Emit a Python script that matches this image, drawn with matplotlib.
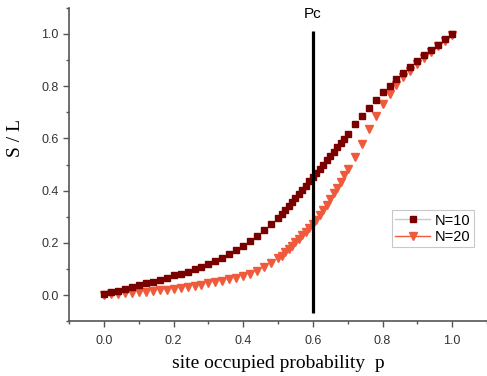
import matplotlib
matplotlib.use("Agg")
import matplotlib.pyplot as plt
from matplotlib.lines import Line2D
from matplotlib.ticker import MultipleLocator

# occupation probability grid: coarse 0.02 steps, dense 0.01 steps in 0.50-0.70
P_LOW = [round(0.02 * i, 2) for i in range(25)]          # 0.00 .. 0.48
P_MID = [round(0.50 + 0.01 * i, 2) for i in range(21)]   # 0.50 .. 0.70
P_HIGH = [round(0.72 + 0.02 * i, 2) for i in range(15)]  # 0.72 .. 1.00
P = P_LOW + P_MID + P_HIGH

# S/L for N=10 (squares)
S10 = [
    0.003, 0.010, 0.017, 0.023, 0.031, 0.037, 0.045, 0.051, 0.059, 0.067,
    0.075, 0.082, 0.090, 0.100, 0.109, 0.118, 0.130, 0.143, 0.156, 0.171,
    0.187, 0.205, 0.226, 0.249, 0.273,
    0.295, 0.310, 0.325, 0.341, 0.356, 0.372, 0.388, 0.403, 0.419, 0.435,
    0.451, 0.467, 0.483, 0.500, 0.516, 0.533, 0.549, 0.566, 0.582, 0.599,
    0.616,
    0.654, 0.687, 0.717, 0.746, 0.776, 0.800, 0.827, 0.851, 0.875, 0.896,
    0.918, 0.939, 0.959, 0.980, 1.000,
]

# S/L for N=20 (triangles)
S20 = [
    0.000, 0.002, 0.004, 0.006, 0.008, 0.011, 0.013, 0.015, 0.018, 0.021,
    0.024, 0.027, 0.031, 0.035, 0.040, 0.045, 0.050, 0.055, 0.061, 0.067,
    0.073, 0.082, 0.093, 0.106, 0.121,
    0.140, 0.151, 0.163, 0.175, 0.188, 0.202, 0.216, 0.229, 0.243, 0.257,
    0.272, 0.289, 0.307, 0.326, 0.346, 0.367, 0.389, 0.411, 0.434, 0.458,
    0.483,
    0.530, 0.580, 0.635, 0.686, 0.730, 0.770, 0.805, 0.834, 0.860, 0.885,
    0.908, 0.930, 0.953, 0.975, 0.997,
]

PC = 0.6
C10 = "#7a0000"
C20 = "#f05a3c"
AXC = "#555555"

fig = plt.figure(figsize=(4.87, 3.76), dpi=100, facecolor="white")
ax = fig.add_axes([0.142, 0.146, 0.858, 0.833])

ax.plot(P, S20, linestyle="none", marker="v", ms=5.8, color=C20, mec=C20)
ax.plot(P, S10, linestyle="none", marker="s", ms=5.0, color=C10, mec=C10)

# critical probability
ax.vlines(PC, -0.07, 1.01, color="black", linewidth=2.3)
ax.text(PC, 1.075, "Pc", ha="center", va="center", fontsize=11,
        family="Liberation Sans")

ax.set_xlim(-0.1, 1.1)
ax.set_ylim(-0.1, 1.1)
ax.set_xticks([0.0, 0.2, 0.4, 0.6, 0.8, 1.0])
ax.set_yticks([0.0, 0.2, 0.4, 0.6, 0.8, 1.0])
ax.xaxis.set_minor_locator(MultipleLocator(0.1))
ax.yaxis.set_minor_locator(MultipleLocator(0.1))
ax.tick_params(which="major", direction="out", length=4, width=1, color=AXC,
               labelsize=9, labelcolor="#333333")
ax.tick_params(which="minor", direction="out", length=2.5, width=1, color=AXC)
ax.tick_params(axis="x", pad=6)
for lab in ax.get_xticklabels() + ax.get_yticklabels():
    lab.set_family("Liberation Sans")

for side in ["top", "right"]:
    ax.spines[side].set_visible(False)
for side in ["left", "bottom"]:
    ax.spines[side].set_color(AXC)
    ax.spines[side].set_linewidth(1.2)

ax.set_xlabel("site occupied probability  p", fontsize=14,
              family="Liberation Serif", labelpad=6)
ax.set_ylabel("S / L", fontsize=14, family="Liberation Serif")
ax.yaxis.set_label_coords(-0.107, 0.585)

handles = [
    Line2D([], [], color="#c8c8c8", marker="s", ms=5, mfc=C10, mec=C10, lw=1),
    Line2D([], [], color=C20, marker="v", ms=6, mfc=C20, mec=C20, lw=1),
]
leg = ax.legend(handles, ["N=10", "N=20"], loc="upper left",
                bbox_to_anchor=(0.772, 0.355), frameon=True,
                fancybox=False, edgecolor="#bbbbbb", handlelength=2.4,
                handletextpad=0.3, borderpad=0.25, labelspacing=0.15,
                borderaxespad=0.0,
                prop={"family": "Liberation Sans", "size": 10.5})
leg.get_frame().set_linewidth(0.8)

fig.savefig("out.png", dpi=100)
